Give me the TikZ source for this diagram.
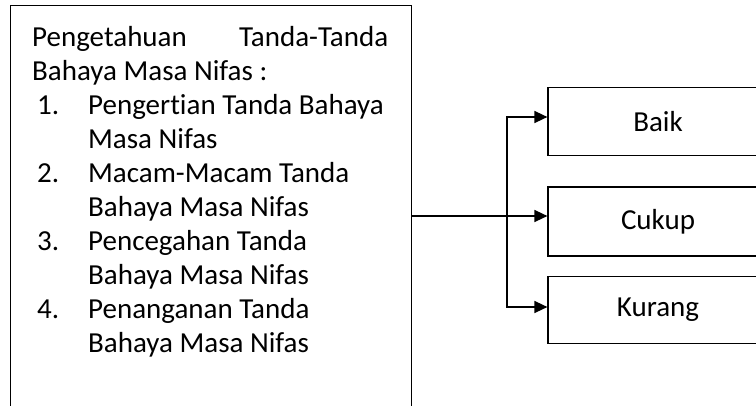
\documentclass[tikz,border=0pt]{standalone}
\usepackage{fontspec}
\setmainfont[Ligatures={NoCommon}]{Carlito}
\usetikzlibrary{arrows.meta}
\begin{document}
\begin{tikzpicture}[x=1pt,y=-1pt,
  box/.style={draw, line width=1.2pt, inner sep=0pt},
  txt/.style={anchor=base west, inner sep=0pt, font=\fontsize{29}{34}\selectfont},
  lbl/.style={font=\fontsize{29}{34}\selectfont},
  arr/.style={line width=1.5pt, -{Triangle[length=13pt,width=12pt]}}]
\clip (0,0) rectangle (756,405);
\node[box, anchor=north west, minimum width=401pt, minimum height=430pt] (main) at (10,5) {};
\node[txt] (t1) at (32,46.5) {\makebox[356pt][s]{Pengetahuan Tanda-Tanda}};
\node[txt] (t2) at (32,80.5) {Bahaya Masa Nifas :};
\node[txt] (n1) at (37,114.5) {1.};
\node[txt] (t3) at (88,114.5) {Pengertian Tanda Bahaya};
\node[txt] (t4) at (88,148.5) {Masa Nifas};
\node[txt] (n2) at (37,182.5) {2.};
\node[txt] (t5) at (88,182.5) {Macam-Macam Tanda};
\node[txt] (t6) at (88,216.5) {Bahaya Masa Nifas};
\node[txt] (n3) at (37,250.5) {3.};
\node[txt] (t7) at (88,250.5) {Pencegahan Tanda};
\node[txt] (t8) at (88,284.5) {Bahaya Masa Nifas};
\node[txt] (n4) at (37,318.5) {4.};
\node[txt] (t9) at (88,318.5) {Penanganan Tanda};
\node[txt] (t10) at (88,352.5) {Bahaya Masa Nifas};
\node[box, lbl, minimum width=220pt, minimum height=68pt] (baik) at (658,121.7) {Baik};
\node[box, lbl, minimum width=220pt, minimum height=69pt] (cukup) at (658,221.5) {Cukup};
\node[box, lbl, minimum width=220pt, minimum height=67pt] (kurang) at (658,309.7) {Kurang};
\coordinate (j) at (507,216);
\draw[arr] (main.east |- j) -- ([yshift=5.5pt]cukup.west);
\draw[arr] (j) |- ([yshift=4.7pt]baik.west);
\draw[arr] (j) |- ([yshift=2.7pt]kurang.west);
\end{tikzpicture}
\end{document}
